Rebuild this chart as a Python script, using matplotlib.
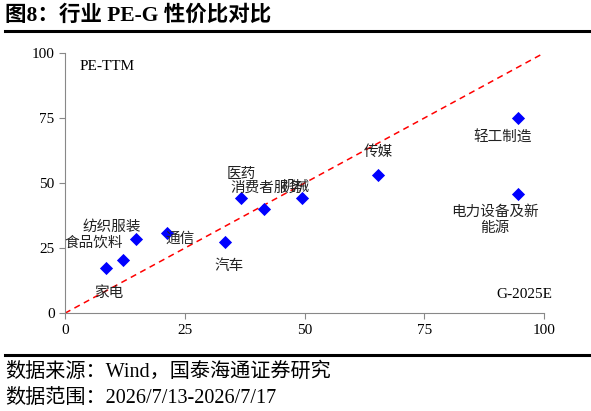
import matplotlib
matplotlib.use('Agg')
import matplotlib.pyplot as plt
from matplotlib.lines import Line2D

plt.rcParams['font.family'] = ['Liberation Serif', 'Noto Sans CJK SC']

industries = ['家电', '食品饮料', '纺织服装', '通信', '汽车', '医药',
              '消费者服务', '机械', '传媒', '轻工制造', '电力设备及新\n能源']
growth = [8.6, 12.2, 14.8, 21.2, 33.3, 36.7, 41.6, 49.4, 65.3, 94.6, 94.6]
pe_ttm = [17.2, 20.4, 28.5, 31.0, 27.3, 44.3, 39.9, 44.3, 53.3, 75.1, 45.9]

# label offsets in points (dx, dy)
offsets = [(1.5, -17.5), (-21.5, 12), (-17.5, 9), (9.5, -5), (3.5, -17),
           (0.5, 17), (1.7, 15.5), (-4.5, 7.5), (0.5, 16.3), (-11.5, -14.4),
           (-16.5, -19)]

ticks = [0, 25, 50, 75, 100]

fig = plt.figure(figsize=(5.91, 4.11), dpi=100)
ax = fig.add_axes([0.11, 0.238, 0.8105, 0.633])

ax.plot([0, 100], [0, 100], color='red', linestyle=(0, (4, 3)), linewidth=1.1)
ax.scatter(growth, pe_ttm, marker='D', s=45, color='#0000FF', zorder=3,
           linewidths=0)

for name, x, y, (dx, dy) in zip(industries, growth, pe_ttm, offsets):
    ax.annotate(name, (x, y), xytext=(dx, dy), textcoords='offset points',
                ha='center', va='center', fontsize=10.5, color='#222222',
                linespacing=1.3)

ax.set_xlim(0, 100)
ax.set_ylim(0, 100)
ax.set_xticks(ticks)
ax.set_yticks(ticks)
ax.tick_params(labelsize=11, color='#888888', length=4, direction='out')
for s in ['top', 'right']:
    ax.spines[s].set_visible(False)
for s in ['left', 'bottom']:
    ax.spines[s].set_color('#888888')

ax.text(0.03, 0.975, 'PE-TTM', transform=ax.transAxes, fontsize=11,
        ha='left', va='top')
ax.text(1.018, 0.045, 'G-2025E', transform=ax.transAxes, fontsize=11,
        ha='right', va='bottom')

fig.text(0.008, 0.962, '图8：行业 PE-G 性价比对比', fontsize=15.5,
         fontweight='bold', ha='left', va='center')
fig.add_artist(Line2D([0.008, 0.997], [0.925, 0.925], color='black',
                      linewidth=2.2, transform=fig.transFigure))
fig.add_artist(Line2D([0.008, 0.997], [0.137, 0.137], color='black',
                      linewidth=2.2, transform=fig.transFigure))
fig.text(0.008, 0.095, '数据来源：Wind，国泰海通证券研究', fontsize=14.5,
         ha='left', va='center')
fig.text(0.008, 0.030, '数据范围：2026/7/13-2026/7/17', fontsize=14.5,
         ha='left', va='center')

fig.savefig('out.png', dpi=100)
